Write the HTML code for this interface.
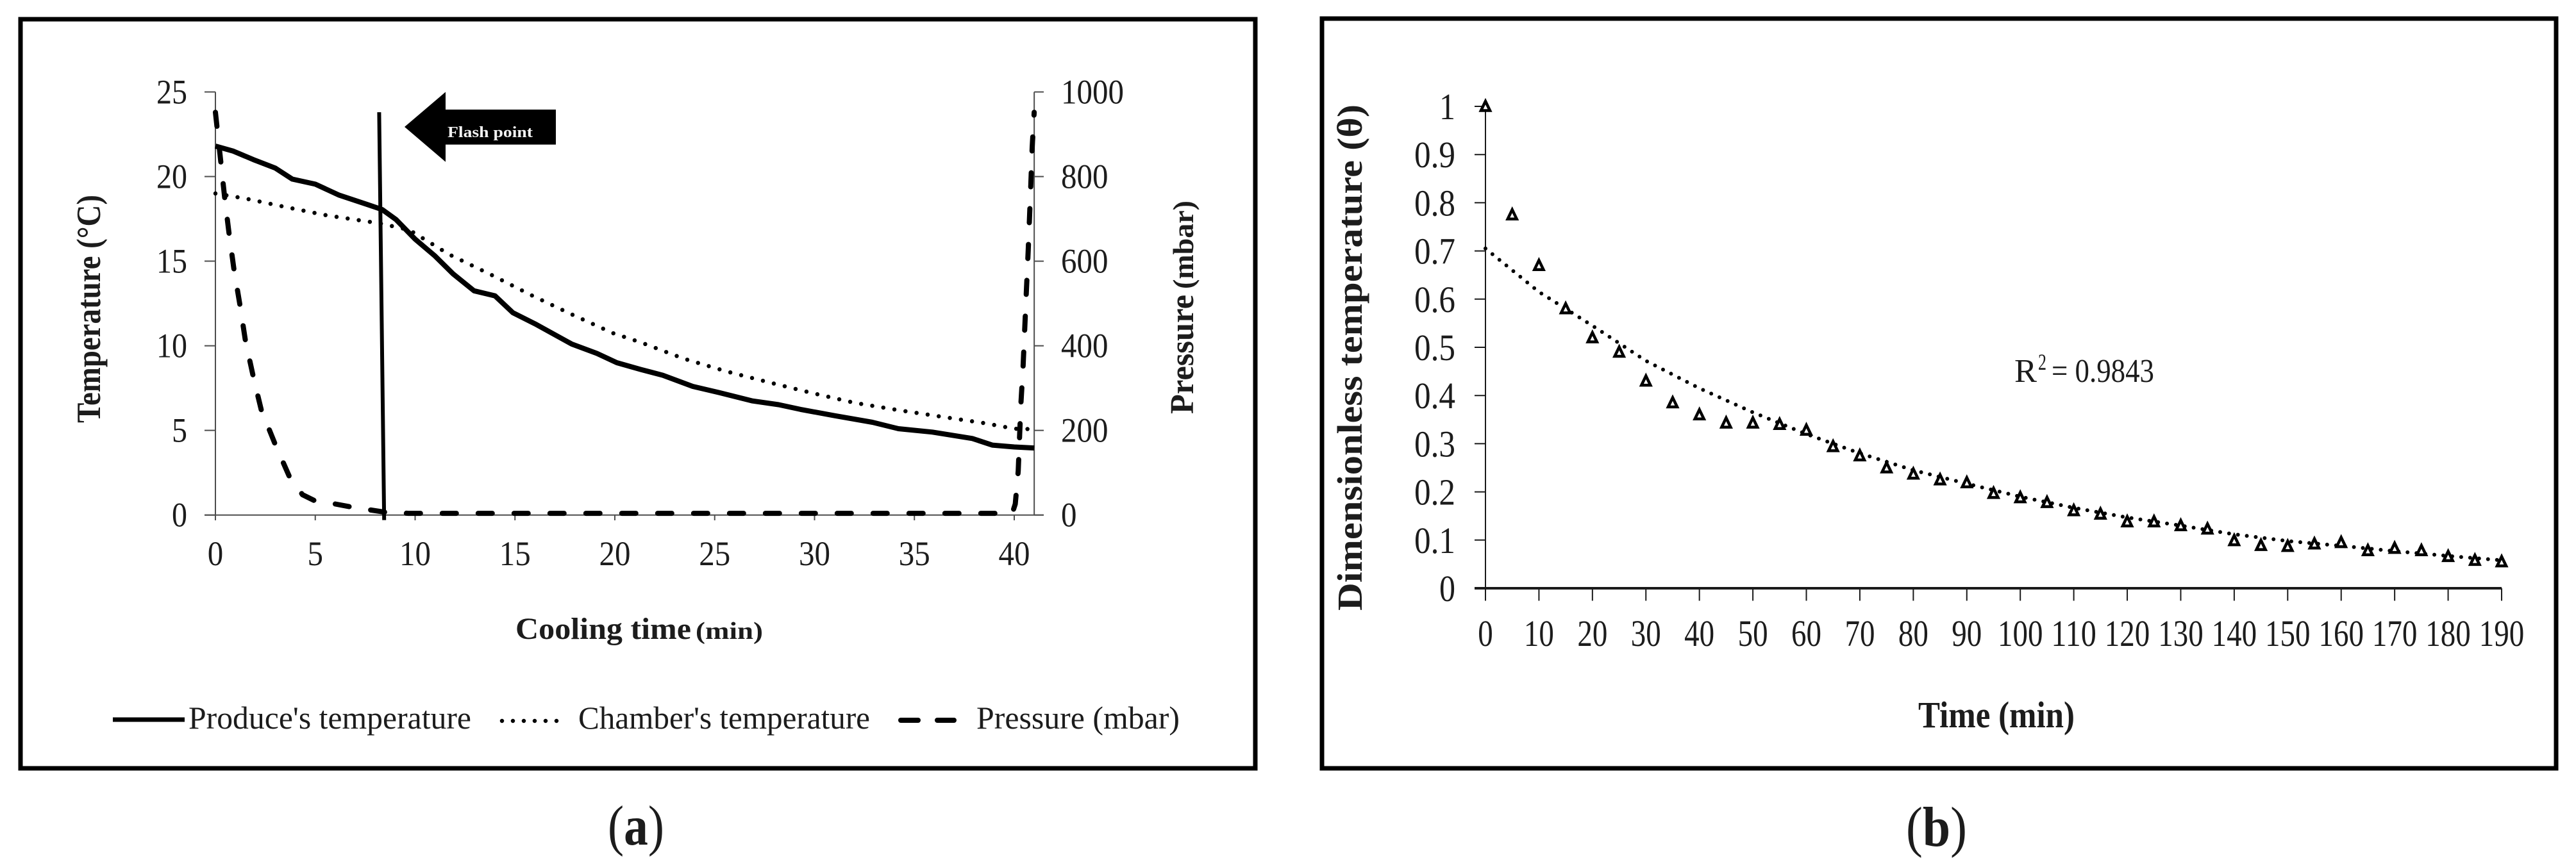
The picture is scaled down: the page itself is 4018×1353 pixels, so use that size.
<!DOCTYPE html>
<html lang="en">
<head>
<meta charset="utf-8">
<title>Cooling curves</title>
<style>
html,body{margin:0;padding:0;background:#fff;width:4018px;height:1353px;overflow:hidden}
svg{display:block}
text{font-family:"Liberation Serif","DejaVu Serif",serif;fill:#1c1c1c}
</style>
</head>
<body>
<svg id="fig" xmlns="http://www.w3.org/2000/svg" width="4018" height="1353" viewBox="0 0 4018 1353">
  <rect width="4018" height="1353" fill="#fff"/>

  <!-- panel a -->
  <g id="panelA">
    <rect x="32" y="30" width="1926" height="1169" fill="none" stroke="#000" stroke-width="7"/>
    <text transform="translate(156,660) rotate(-90)" font-size="53" font-weight="bold" textLength="356" lengthAdjust="spacingAndGlyphs">Temperature (°C)</text>
    <text transform="translate(1861,646) rotate(-90)" font-size="52" font-weight="bold" textLength="186" lengthAdjust="spacingAndGlyphs">Pressure</text>
    <text transform="translate(1861,451) rotate(-90)" font-size="46" font-weight="bold" textLength="138" lengthAdjust="spacingAndGlyphs">(mbar)</text>
    <text x="804" y="997" font-size="48" font-weight="bold" textLength="274" lengthAdjust="spacingAndGlyphs">Cooling time</text>
    <text x="1085" y="997" font-size="38" font-weight="bold" textLength="105" lengthAdjust="spacingAndGlyphs">(min)</text>

    <line x1="176" y1="1123" x2="288" y2="1123" stroke="#000" stroke-width="7"/>
    <text x="294" y="1137" font-size="50" textLength="441" lengthAdjust="spacingAndGlyphs">Produce's temperature</text>
    <line x1="783" y1="1125" x2="882" y2="1125" stroke="#000" stroke-width="6.5" stroke-linecap="round" stroke-dasharray="0 17"/>
    <text x="902" y="1137" font-size="50" textLength="455" lengthAdjust="spacingAndGlyphs">Chamber's temperature</text>
    <line x1="1405" y1="1124" x2="1432" y2="1124" stroke="#000" stroke-width="8" stroke-linecap="round"/>
    <line x1="1462" y1="1124" x2="1488" y2="1124" stroke="#000" stroke-width="8" stroke-linecap="round"/>
    <text x="1523" y="1137" font-size="50" textLength="317" lengthAdjust="spacingAndGlyphs">Pressure (mbar)</text>

    <text x="948" y="1318" font-size="88" textLength="88" lengthAdjust="spacingAndGlyphs">(<tspan font-weight="bold">a</tspan>)</text>
  </g>

  <!-- panel b -->
  <g id="panelB">
    <rect x="2062" y="29" width="1925" height="1170" fill="none" stroke="#000" stroke-width="7"/>
    <text transform="translate(2124,953) rotate(-90)" font-size="55" font-weight="bold" textLength="790" lengthAdjust="spacingAndGlyphs">Dimensionless temperature (θ)</text>
    <text x="2992" y="1135" font-size="58" font-weight="bold" textLength="244" lengthAdjust="spacingAndGlyphs">Time (min)</text>
    <text x="3142" y="596" font-size="52" textLength="35" lengthAdjust="spacingAndGlyphs">R</text>
    <text x="3179" y="577" font-size="36" textLength="13" lengthAdjust="spacingAndGlyphs">2</text>
    <text x="3200" y="596" font-size="52" textLength="160" lengthAdjust="spacingAndGlyphs">= 0.9843</text>
    <text x="2973" y="1320" font-size="88" textLength="95" lengthAdjust="spacingAndGlyphs">(<tspan font-weight="bold">b</tspan>)</text>
  </g>
</svg>

<script>
// ---- Panel (a) data ----
const tempTicks = [0, 5, 10, 15, 20, 25];
const pressureTicks = [0, 200, 400, 600, 800, 1000];
const timeTicksA = [0, 5, 10, 15, 20, 25, 30, 35, 40];
const produceTime = [0, 0.9, 1.9, 3, 3.85, 5, 6.2, 7.6, 8.35, 9.05, 10, 11, 11.9, 12.95, 14, 14.9, 16, 17.85, 19.1, 20.1, 21.3, 22.4, 23.9, 25.2, 26.9, 28.2, 29.3, 31, 32.9, 34.2, 35.9, 37.9, 38.9, 40, 41];
const produceTemp = [21.8, 21.5, 21.0, 20.5, 19.85, 19.55, 18.9, 18.35, 18.05, 17.45, 16.3, 15.3, 14.25, 13.25, 12.95, 11.95, 11.3, 10.1, 9.55, 9.0, 8.6, 8.26, 7.6, 7.24, 6.74, 6.52, 6.24, 5.87, 5.48, 5.1, 4.9, 4.52, 4.13, 4.02, 3.96];
const chamberTime = [0, 1.5, 3.5, 5.6, 8.2, 9.7, 11.7, 13.8, 15.8, 17.85, 19.9, 21.3, 23.45, 25.6, 27.75, 29.9, 32, 34.2, 36.4, 38.5, 40, 41];
const chamberTemp = [19.0, 18.7, 18.2, 17.7, 17.24, 16.85, 15.4, 14.2, 13.0, 11.85, 10.75, 10.2, 9.24, 8.48, 7.83, 7.2, 6.63, 6.2, 5.8, 5.43, 5.1, 5.07];
const pressureTime = [0, 0.27, 0.47, 0.67, 0.92, 1.23, 1.5, 1.9, 2.3, 2.97, 3.7, 4.36, 5, 6, 6.8, 8.45, 9.67, 20, 30, 39.9, 40.05, 40.2, 40.33, 40.44, 40.6, 40.7, 40.83, 40.9, 41];
const pressureValues = [952, 835, 748, 670, 583, 496, 413, 326, 248, 170, 91, 48, 33, 26, 19, 7, 4, 4, 4, 4, 26, 104, 261, 348, 522, 626, 783, 870, 952];
const flashTime = [8.2, 8.45];
const flashTemp = [23.8, -0.3];

// ---- Panel (b) data ----
const thetaTicks = ['0', '0.1', '0.2', '0.3', '0.4', '0.5', '0.6', '0.7', '0.8', '0.9', '1'];
const timeTicksB = [0, 10, 20, 30, 40, 50, 60, 70, 80, 90, 100, 110, 120, 130, 140, 150, 160, 170, 180, 190];
const sampleTime = [0, 5, 10, 15, 20, 25, 30, 35, 40, 45, 50, 55, 60, 65, 70, 75, 80, 85, 90, 95, 100, 105, 110, 115, 120, 125, 130, 135, 140, 145, 150, 155, 160, 165, 170, 175, 180, 185, 190];
const sampleTheta = [1.0, 0.775, 0.67, 0.58, 0.52, 0.49, 0.43, 0.385, 0.36, 0.343, 0.343, 0.34, 0.328, 0.294, 0.275, 0.25, 0.237, 0.225, 0.219, 0.197, 0.188, 0.178, 0.161, 0.154, 0.138, 0.138, 0.13, 0.123, 0.099, 0.089, 0.087, 0.092, 0.095, 0.078, 0.083, 0.078, 0.066, 0.058, 0.055];
const trendTime = [0, 10, 20, 30, 40, 50, 60, 70, 80, 90, 100, 110, 120, 130, 140, 150, 160, 170, 180, 190];
const trendTheta = [0.705, 0.615, 0.545, 0.472, 0.415, 0.365, 0.32, 0.28, 0.245, 0.217, 0.19, 0.167, 0.147, 0.13, 0.112, 0.098, 0.088, 0.077, 0.067, 0.058];

// ---- Axis functions ----
const xA = v => 336 + v * 31.15;
const yTemp = v => 803.7 - v * 26.41;
const yPress = v => 803.7 - v * 0.6602;
const xB = v => 2317 + v * 8.342;
const yB = v => 918 - v * 752;

const NS = 'http://www.w3.org/2000/svg';
const panelA = document.getElementById('panelA');
const panelB = document.getElementById('panelB');

function make(tag, attrs, parent, content) {
  const el = document.createElementNS(NS, tag);
  for (const k in attrs) el.setAttribute(k, attrs[k]);
  if (content !== undefined) el.textContent = content;
  parent.appendChild(el);
  return el;
}
function segment(x1, y1, x2, y2, width, color, parent) {
  return make('line', { x1, y1, x2, y2, stroke: color, 'stroke-width': width }, parent);
}
function label(str, x, y, size, anchor, perChar, parent) {
  return make('text', { x, y, 'font-size': size, 'text-anchor': anchor, textLength: String(str).replace('.', '').length * perChar + (String(str).includes('.') ? 14 : 0), lengthAdjust: 'spacingAndGlyphs' }, parent, String(str));
}
function polyline(xs, ys, fx, fy, style, parent) {
  const pts = xs.map((x, i) => fx(x).toFixed(1) + ',' + fy(ys[i]).toFixed(1)).join(' ');
  return make('polyline', Object.assign({ points: pts, fill: 'none', 'stroke-linejoin': 'round' }, style), parent);
}

// ---- Draw panel (a) ----
const axisGrey = '#4d4d4d';
const xAxisA = segment(319, yTemp(0), 1628, yTemp(0), 2, axisGrey, panelA);


const leftAxisA = segment(xA(0), yTemp(25), xA(0), 812, 2, axisGrey, panelA);


const rightAxisA = segment(xA(41), yPress(1000), xA(41), yPress(0), 2, axisGrey, panelA);



tempTicks.forEach(v => {
  const t = segment(319, yTemp(v), xA(0), yTemp(v), 2, axisGrey, panelA);
  
  
  const l = label(v, 292, yTemp(v) + 18, 54, 'end', 24, panelA);
  
  
});
pressureTicks.forEach(v => {
  const t = segment(xA(41), yPress(v), 1628, yPress(v), 2, axisGrey, panelA);
  
  
  const l = label(v, 1655, yPress(v) + 18, 54, 'start', 24.5, panelA);
  
  
});
timeTicksA.forEach(v => {
  const t = segment(xA(v), yTemp(0), xA(v), 812, 2, axisGrey, panelA);
  
  
  const l = label(v, xA(v), 882, 54, 'middle', 24.5, panelA);
  
  
});

const pressureLine = polyline(pressureTime, pressureValues, xA, yPress, { stroke: '#000', 'stroke-width': 8, 'stroke-linecap': 'round', 'stroke-dasharray': '22 34' }, panelA);


const chamberLine = polyline(chamberTime, chamberTemp, xA, yTemp, { stroke: '#000', 'stroke-width': 6.5, 'stroke-linecap': 'round', 'stroke-dasharray': '0 17.5' }, panelA);


const produceLine = polyline(produceTime, produceTemp, xA, yTemp, { stroke: '#000', 'stroke-width': 8 }, panelA);


const flashLine = polyline(flashTime, flashTemp, xA, yTemp, { stroke: '#000', 'stroke-width': 6 }, panelA);



const arrow = make('polygon', { points: '631,198 695,143.5 695,171 867,171 867,225.6 695,225.6 695,252.6', fill: '#000' }, panelA);


const arrowText = make('text', { x: 698, y: 214, 'font-size': 24, 'font-weight': 'bold', textLength: 133, lengthAdjust: 'spacingAndGlyphs', style: 'fill:#f2f2f2' }, panelA, 'Flash point');



// ---- Draw panel (b) ----
const xAxisB = segment(2300, yB(0), xB(190), yB(0), 4, '#1a1a1a', panelB);


const yAxisB = segment(xB(0), yB(1), xB(0), 937, 2, '#1a1a1a', panelB);



thetaTicks.forEach(s => {
  const v = parseFloat(s);
  const t = segment(2300, yB(v), xB(0), yB(v), 2, '#1a1a1a', panelB);
  
  
  const l = label(s, 2270, yB(v) + 20, 58, 'end', 25, panelB);
  
  
});
timeTicksB.forEach(v => {
  const t = segment(xB(v), yB(0), xB(v), 937.5, 2, '#1a1a1a', panelB);
  
  
  const l = label(v, xB(v), 1008, 58, 'middle', 23.5, panelB);
  
  
});

const trendLine = polyline(trendTime, trendTheta, xB, yB, { stroke: '#000', 'stroke-width': 6, 'stroke-linecap': 'round', 'stroke-dasharray': '0 14' }, panelB);



sampleTime.forEach((x, i) => {
  const cx = xB(x), cy = yB(sampleTheta[i]);
  const p = make('polygon', {
    points: [cx, cy - 8, cx + 7, cy + 6.5, cx - 7, cy + 6.5].reduce((a, c, j) => a + c.toFixed(1) + (j % 2 ? ' ' : ','), ''),
    fill: '#fff', stroke: '#000', 'stroke-width': 4.5, 'stroke-linejoin': 'miter'
  }, panelB);
  
  
});
</script>
</body>
</html>
